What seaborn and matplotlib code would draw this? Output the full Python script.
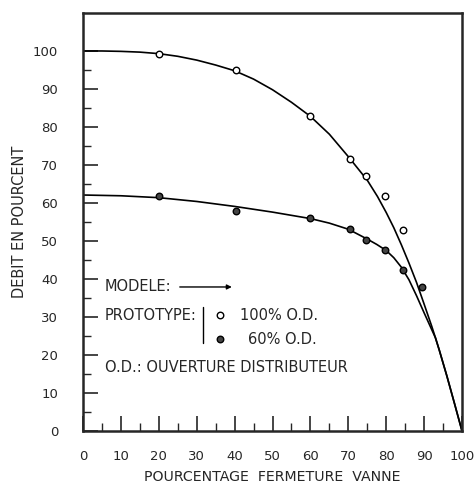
import numpy as np
import pandas as pd
import matplotlib
matplotlib.use("Agg")
import matplotlib.pyplot as plt
import seaborn as sns

# model curves
model100_x = [0, 5, 10, 15, 20, 25, 30, 35, 40, 45, 50, 55, 60, 65, 70, 75, 77.7,
              80, 82, 84, 86, 88, 90, 92, 93, 94, 96, 98, 100]
model100_y = [100, 100, 99.9, 99.7, 99.3, 98.6, 97.6, 96.3, 94.8, 92.6, 89.8, 86.5, 82.8,
              78.1, 72.2, 66.0, 61.7, 57.5, 53.5, 49.0, 44.2, 39.1, 33.4, 27.6, 24.5,
              21.3, 14.5, 7.3, 0]
model60_x = [0, 10, 20, 30, 40, 50, 60, 65, 70, 75, 77.5, 80, 82, 84, 86, 88, 90, 92,
             93, 94, 96, 98, 100]
model60_y = [62.1, 61.9, 61.4, 60.4, 59.1, 57.6, 55.9, 54.7, 53.1, 50.5, 49.1, 47.5, 45.6,
             43.1, 39.8, 35.6, 31.1, 26.7, 24.5, 21.3, 14.5, 7.3, 0]

# prototype measurements
proto100_x = [20, 40.4, 59.9, 70.4, 74.8, 79.7, 84.4]
proto100_y = [99.3, 95, 82.9, 71.6, 67.2, 61.8, 53]
proto60_x = [20, 40.4, 59.9, 70.4, 74.8, 79.8, 84.5, 89.4]
proto60_y = [61.8, 58, 56, 53.1, 50.2, 47.5, 42.3, 38]

x_ticks = list(range(0, 101, 10))
y_ticks = list(range(0, 101, 10))

sns.set_style("ticks")
plt.rcParams["font.family"] = ["DejaVu Sans"]

fig = plt.figure(figsize=(4.76, 4.88), dpi=100)
ax = fig.add_axes([0.1744, 0.1168, 0.7962, 0.8566])

sns.lineplot(x=model100_x, y=model100_y, ax=ax, color="black", linewidth=1.2, sort=False)
sns.lineplot(x=model60_x, y=model60_y, ax=ax, color="black", linewidth=1.2, sort=False)
sns.scatterplot(x=proto100_x, y=proto100_y, ax=ax, marker="o", s=22,
                facecolor="white", edgecolor="black", linewidth=1.0, zorder=5)
sns.scatterplot(x=proto60_x, y=proto60_y, ax=ax, marker="o", s=22,
                color="#444444", edgecolor="black", linewidth=1.0, zorder=5)

ax.set_xlim(0, 100)
ax.set_ylim(0, 110)
ax.set_xticks(x_ticks)
ax.set_yticks(y_ticks)
ax.set_xticks(np.arange(5, 100, 10), minor=True)
ax.set_yticks(np.arange(5, 100, 10), minor=True)
ax.tick_params(which="major", direction="in", length=11, width=1.2, labelsize=9.5, pad=14)
ax.tick_params(which="minor", direction="in", length=6, width=1.0)
ax.tick_params(axis="y", pad=18)
for s in ax.spines.values():
    s.set_linewidth(1.8)
    s.set_visible(True)

ax.set_xlabel("POURCENTAGE  FERMETURE  VANNE", fontsize=10.2, labelpad=5)
ax.set_ylabel("DEBIT EN POURCENT", fontsize=10.5, labelpad=4)

# legend drawn as text inside the plot
fs = 10.5
ax.text(5.8, 37.9, "MODELE:", fontsize=fs, va="center", ha="left")
ax.annotate("", xy=(40, 37.9), xytext=(24.8, 37.9),
            arrowprops=dict(arrowstyle="-|>", color="black", lw=1.0, mutation_scale=7))
ax.text(5.8, 30.5, "PROTOTYPE:", fontsize=fs, va="center", ha="left")
ax.plot([31.7, 31.7], [23.2, 32.6], color="black", lw=1.0)
ax.scatter([36.1], [30.5], s=22, facecolor="white", edgecolor="black", linewidth=1.0)
ax.text(41.4, 30.5, "100% O.D.", fontsize=fs, va="center", ha="left")
ax.scatter([36.1], [24.2], s=22, color="#444444", edgecolor="black", linewidth=1.0)
ax.text(43.5, 24.2, "60% O.D.", fontsize=fs, va="center", ha="left")
ax.text(5.8, 16.6, "O.D.: OUVERTURE DISTRIBUTEUR", fontsize=fs, va="center", ha="left")

fig.savefig("out.png", dpi=100)
